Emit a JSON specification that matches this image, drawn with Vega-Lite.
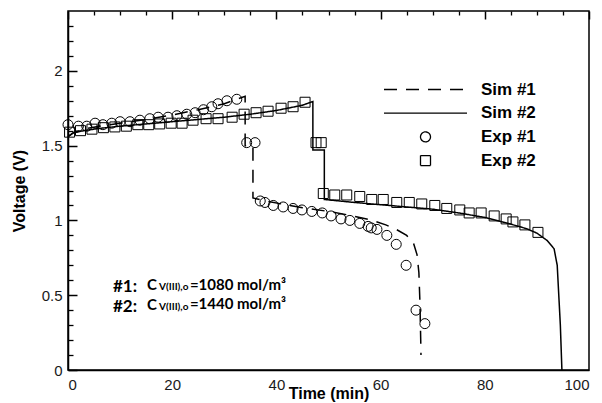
{
  "$schema": "https://vega.github.io/schema/vega-lite/v6.json",
  "width": 521,
  "height": 359,
  "autosize": {"type": "none"},
  "padding": {"left": 68, "top": 11, "right": 13, "bottom": 33},
  "background": "white",
  "config": {
    "view": {"stroke": "black", "strokeWidth": 1.5},
    "axis": {
      "grid": false,
      "domainColor": "black",
      "domainWidth": 1.5,
      "tickColor": "black",
      "tickWidth": 1.5,
      "labelFont": "Liberation Sans",
      "labelFontSize": 15,
      "labelColor": "#1a1a1a",
      "titleFont": "Liberation Sans",
      "titleFontSize": 16,
      "titleFontWeight": "bold",
      "titleColor": "black"
    },
    "legend": {
      "orient": "none",
      "legendX": 349,
      "legendY": 70,
      "padding": 0,
      "title": null,
      "labelFont": "Liberation Sans",
      "labelFontSize": 17,
      "labelFontWeight": "bold",
      "labelColor": "black",
      "labelOffset": 47,
      "rowPadding": 5.7,
      "symbolStrokeColor": "black",
      "symbolFillColor": "transparent",
      "symbolStrokeWidth": 1.3
    }
  },
  "datasets": {
    "pts": [
      {"s": "Sim #1", "k": 0, "t": 0, "v": 1.56},
      {"s": "Sim #1", "k": 1, "t": 1, "v": 1.585},
      {"s": "Sim #1", "k": 2, "t": 3, "v": 1.61},
      {"s": "Sim #1", "k": 3, "t": 6, "v": 1.63},
      {"s": "Sim #1", "k": 4, "t": 10, "v": 1.65},
      {"s": "Sim #1", "k": 5, "t": 15, "v": 1.675},
      {"s": "Sim #1", "k": 6, "t": 20, "v": 1.705},
      {"s": "Sim #1", "k": 7, "t": 25, "v": 1.74},
      {"s": "Sim #1", "k": 8, "t": 30, "v": 1.78},
      {"s": "Sim #1", "k": 9, "t": 34, "v": 1.83},
      {"s": "Sim #1", "k": 10, "t": 34, "v": 1.5},
      {"s": "Sim #1", "k": 11, "t": 35.5, "v": 1.5},
      {"s": "Sim #1", "k": 12, "t": 35.5, "v": 1.15},
      {"s": "Sim #1", "k": 13, "t": 38, "v": 1.13},
      {"s": "Sim #1", "k": 14, "t": 41, "v": 1.11},
      {"s": "Sim #1", "k": 15, "t": 45, "v": 1.085},
      {"s": "Sim #1", "k": 16, "t": 50, "v": 1.06},
      {"s": "Sim #1", "k": 17, "t": 54, "v": 1.035},
      {"s": "Sim #1", "k": 18, "t": 58, "v": 1.005},
      {"s": "Sim #1", "k": 19, "t": 61, "v": 0.97},
      {"s": "Sim #1", "k": 20, "t": 63, "v": 0.94},
      {"s": "Sim #1", "k": 21, "t": 65, "v": 0.9},
      {"s": "Sim #1", "k": 22, "t": 66.3, "v": 0.85},
      {"s": "Sim #1", "k": 23, "t": 67.0, "v": 0.77},
      {"s": "Sim #1", "k": 24, "t": 67.35, "v": 0.65},
      {"s": "Sim #1", "k": 25, "t": 67.55, "v": 0.45},
      {"s": "Sim #1", "k": 26, "t": 67.7, "v": 0.2},
      {"s": "Sim #1", "k": 27, "t": 67.75, "v": 0.1},
      {"s": "Sim #2", "k": 0, "t": 0, "v": 1.56},
      {"s": "Sim #2", "k": 1, "t": 1, "v": 1.585},
      {"s": "Sim #2", "k": 2, "t": 3, "v": 1.6},
      {"s": "Sim #2", "k": 3, "t": 6, "v": 1.615},
      {"s": "Sim #2", "k": 4, "t": 10, "v": 1.63},
      {"s": "Sim #2", "k": 5, "t": 15, "v": 1.645},
      {"s": "Sim #2", "k": 6, "t": 20, "v": 1.66},
      {"s": "Sim #2", "k": 7, "t": 25, "v": 1.675},
      {"s": "Sim #2", "k": 8, "t": 30, "v": 1.69},
      {"s": "Sim #2", "k": 9, "t": 35, "v": 1.71},
      {"s": "Sim #2", "k": 10, "t": 40, "v": 1.735},
      {"s": "Sim #2", "k": 11, "t": 45, "v": 1.77},
      {"s": "Sim #2", "k": 12, "t": 47, "v": 1.795},
      {"s": "Sim #2", "k": 13, "t": 47, "v": 1.47},
      {"s": "Sim #2", "k": 14, "t": 49.2, "v": 1.47},
      {"s": "Sim #2", "k": 15, "t": 49.2, "v": 1.14},
      {"s": "Sim #2", "k": 16, "t": 55, "v": 1.12},
      {"s": "Sim #2", "k": 17, "t": 60, "v": 1.105},
      {"s": "Sim #2", "k": 18, "t": 65, "v": 1.09},
      {"s": "Sim #2", "k": 19, "t": 70, "v": 1.075},
      {"s": "Sim #2", "k": 20, "t": 75, "v": 1.05},
      {"s": "Sim #2", "k": 21, "t": 80, "v": 1.02},
      {"s": "Sim #2", "k": 22, "t": 84, "v": 0.985},
      {"s": "Sim #2", "k": 23, "t": 88, "v": 0.945},
      {"s": "Sim #2", "k": 24, "t": 90, "v": 0.915},
      {"s": "Sim #2", "k": 25, "t": 92, "v": 0.865},
      {"s": "Sim #2", "k": 26, "t": 93.3, "v": 0.81},
      {"s": "Sim #2", "k": 27, "t": 93.9, "v": 0.7},
      {"s": "Sim #2", "k": 28, "t": 94.2, "v": 0.5},
      {"s": "Sim #2", "k": 29, "t": 94.5, "v": 0.3},
      {"s": "Sim #2", "k": 30, "t": 94.7, "v": 0.1},
      {"s": "Sim #2", "k": 31, "t": 94.8, "v": 0},
      {"s": "Exp #1", "t": 0, "v": 1.64},
      {"s": "Exp #1", "t": 2, "v": 1.63},
      {"s": "Exp #1", "t": 3.6, "v": 1.63},
      {"s": "Exp #1", "t": 5.2, "v": 1.65},
      {"s": "Exp #1", "t": 6.7, "v": 1.64},
      {"s": "Exp #1", "t": 8.4, "v": 1.65},
      {"s": "Exp #1", "t": 10, "v": 1.66},
      {"s": "Exp #1", "t": 11.9, "v": 1.66},
      {"s": "Exp #1", "t": 13.8, "v": 1.67},
      {"s": "Exp #1", "t": 15.7, "v": 1.68},
      {"s": "Exp #1", "t": 17.3, "v": 1.69},
      {"s": "Exp #1", "t": 19.2, "v": 1.69},
      {"s": "Exp #1", "t": 20.9, "v": 1.7},
      {"s": "Exp #1", "t": 22.8, "v": 1.71},
      {"s": "Exp #1", "t": 24.4, "v": 1.72},
      {"s": "Exp #1", "t": 26, "v": 1.74},
      {"s": "Exp #1", "t": 27.6, "v": 1.76},
      {"s": "Exp #1", "t": 28.8, "v": 1.78},
      {"s": "Exp #1", "t": 30.5, "v": 1.8},
      {"s": "Exp #1", "t": 32.4, "v": 1.81},
      {"s": "Exp #1", "t": 34.3, "v": 1.52},
      {"s": "Exp #1", "t": 35.9, "v": 1.52},
      {"s": "Exp #1", "t": 36.9, "v": 1.13},
      {"s": "Exp #1", "t": 37.8, "v": 1.12},
      {"s": "Exp #1", "t": 39.4, "v": 1.1},
      {"s": "Exp #1", "t": 41.3, "v": 1.09},
      {"s": "Exp #1", "t": 43.2, "v": 1.08},
      {"s": "Exp #1", "t": 44.9, "v": 1.07},
      {"s": "Exp #1", "t": 46.8, "v": 1.06},
      {"s": "Exp #1", "t": 48.8, "v": 1.05},
      {"s": "Exp #1", "t": 50.5, "v": 1.03},
      {"s": "Exp #1", "t": 52.4, "v": 1.01},
      {"s": "Exp #1", "t": 54.1, "v": 1.0},
      {"s": "Exp #1", "t": 56, "v": 0.98},
      {"s": "Exp #1", "t": 57.6, "v": 0.96},
      {"s": "Exp #1", "t": 58.2, "v": 0.95},
      {"s": "Exp #1", "t": 59.3, "v": 0.94},
      {"s": "Exp #1", "t": 61.2, "v": 0.9},
      {"s": "Exp #1", "t": 63, "v": 0.84},
      {"s": "Exp #1", "t": 64.9, "v": 0.7},
      {"s": "Exp #1", "t": 66.8, "v": 0.4},
      {"s": "Exp #1", "t": 68.5, "v": 0.31},
      {"s": "Exp #2", "t": 0.3, "v": 1.59},
      {"s": "Exp #2", "t": 2.4, "v": 1.6},
      {"s": "Exp #2", "t": 4.6, "v": 1.61},
      {"s": "Exp #2", "t": 6.8, "v": 1.62},
      {"s": "Exp #2", "t": 9.0, "v": 1.625},
      {"s": "Exp #2", "t": 11.2, "v": 1.63},
      {"s": "Exp #2", "t": 13.4, "v": 1.64},
      {"s": "Exp #2", "t": 15.5, "v": 1.64},
      {"s": "Exp #2", "t": 17.6, "v": 1.645},
      {"s": "Exp #2", "t": 19.8, "v": 1.65},
      {"s": "Exp #2", "t": 21.9, "v": 1.65},
      {"s": "Exp #2", "t": 24.0, "v": 1.67},
      {"s": "Exp #2", "t": 26.5, "v": 1.68},
      {"s": "Exp #2", "t": 28.8, "v": 1.68},
      {"s": "Exp #2", "t": 31.5, "v": 1.69},
      {"s": "Exp #2", "t": 33.8, "v": 1.71},
      {"s": "Exp #2", "t": 36.1, "v": 1.72},
      {"s": "Exp #2", "t": 38.4, "v": 1.73},
      {"s": "Exp #2", "t": 40.9, "v": 1.75},
      {"s": "Exp #2", "t": 43.2, "v": 1.76},
      {"s": "Exp #2", "t": 45.5, "v": 1.79},
      {"s": "Exp #2", "t": 47.6, "v": 1.52},
      {"s": "Exp #2", "t": 48.6, "v": 1.52},
      {"s": "Exp #2", "t": 49.0, "v": 1.18},
      {"s": "Exp #2", "t": 51.2, "v": 1.17},
      {"s": "Exp #2", "t": 53.5, "v": 1.17},
      {"s": "Exp #2", "t": 56.0, "v": 1.16},
      {"s": "Exp #2", "t": 58.3, "v": 1.14},
      {"s": "Exp #2", "t": 60.5, "v": 1.14},
      {"s": "Exp #2", "t": 63.1, "v": 1.12},
      {"s": "Exp #2", "t": 65.5, "v": 1.12},
      {"s": "Exp #2", "t": 67.9, "v": 1.11},
      {"s": "Exp #2", "t": 70.4, "v": 1.1},
      {"s": "Exp #2", "t": 72.7, "v": 1.08},
      {"s": "Exp #2", "t": 75.2, "v": 1.07},
      {"s": "Exp #2", "t": 77.0, "v": 1.05},
      {"s": "Exp #2", "t": 79.3, "v": 1.05},
      {"s": "Exp #2", "t": 81.8, "v": 1.03},
      {"s": "Exp #2", "t": 84.1, "v": 1.01},
      {"s": "Exp #2", "t": 85.4, "v": 0.99},
      {"s": "Exp #2", "t": 87.7, "v": 0.97},
      {"s": "Exp #2", "t": 90.2, "v": 0.92}
    ],
    "notes": [
      {"n": "a1", "label": "#1:"},
      {"n": "b1", "label": "C"},
      {"n": "c1", "label": "V(III),o"},
      {"n": "d1", "label": "=1080 mol/m³"},
      {"n": "a2", "label": "#2:"},
      {"n": "b2", "label": "C"},
      {"n": "c2", "label": "V(III),o"},
      {"n": "d2", "label": "=1440 mol/m³"}
    ]
  },
  "resolve": {"axis": {"x": "independent", "y": "independent"}},
  "layer": [
    {
      "encoding": {
        "x": {
          "field": "t", "type": "quantitative",
          "scale": {"domain": [0, 100], "nice": false, "zero": false},
          "axis": {
            "orient": "bottom",
            "title": "Time (min)",
            "values": [0, 20, 40, 60, 80, 100],
            "format": "d",
            "ticks": false,
            "tickSize": 0,
            "labelPadding": 7,
            "titlePadding": -7,
            "grid": true,
            "gridColor": "black",
            "gridWidth": 1.5,
            "gridOpacity": 1,
            "gridDash": [8, 2000]
          }
        },
        "y": {
          "field": "v", "type": "quantitative",
          "scale": {"domain": [0, 2.4], "nice": false, "zero": false},
          "axis": {
            "orient": "left",
            "title": "Voltage (V)",
            "values": [0, 0.5, 1, 1.5, 2],
            "format": "~g",
            "ticks": false,
            "tickSize": 0,
            "labelPadding": 6,
            "titlePadding": 14,
            "grid": true,
            "gridColor": "black",
            "gridWidth": 1.5,
            "gridOpacity": 1,
            "gridDash": [9, 2000]
          }
        }
      },
      "layer": [
        {
          "data": {"name": "pts"},
          "transform": [{"filter": "indexof(datum.s, 'Sim') === 0"}],
          "mark": {"type": "line", "color": "black", "strokeWidth": 1.5},
          "encoding": {
            "strokeDash": {
              "field": "s", "type": "nominal",
              "scale": {"domain": ["Sim #1", "Sim #2", "Exp #1", "Exp #2"], "range": [[13, 9], [1, 0], [1, 0], [1, 0]]}
            },
            "order": {"field": "k", "type": "quantitative"}
          }
        },
        {
          "data": {"name": "pts"},
          "transform": [{"filter": "indexof(datum.s, 'Exp') === 0"}],
          "mark": {"type": "point", "filled": false, "color": "black", "strokeWidth": 1, "opacity": 1},
          "encoding": {
            "shape": {
              "field": "s", "type": "nominal",
              "scale": {"domain": ["Sim #1", "Sim #2", "Exp #1", "Exp #2"], "range": ["M-8.3,0H8.3", "M-8.3,0H8.3", "circle", "square"]}
            },
            "size": {
              "field": "s", "type": "nominal",
              "scale": {"domain": ["Sim #1", "Sim #2", "Exp #1", "Exp #2"], "range": [100, 100, 115, 66]}
            }
          }
        }
      ]
    },
    {
      "data": {"name": "notes"},
      "transform": [{"filter": "datum.n === 'a1'"}],
      "mark": {"type": "text", "align": "left", "baseline": "alphabetic", "font": "Lato", "fontWeight": "bold", "fontSize": 17, "color": "black"},
      "encoding": {
        "x": {"datum": 8.64, "type": "quantitative",
          "axis": {"orient": "bottom", "values": [5,10,15,25,30,35,45,50,55,65,70,75,85,90,95], "ticks": false, "labels": false, "domain": false, "title": null, "grid": true, "gridColor": "black", "gridWidth": 1.3, "gridOpacity": 1, "gridDash": [4, 2000]}},
        "y": {"datum": 0.523, "type": "quantitative",
          "axis": {"orient": "left", "values": [0.1,0.2,0.3,0.4,0.6,0.7,0.8,0.9,1.1,1.2,1.3,1.4,1.6,1.7,1.8,1.9,2.1,2.2,2.3], "ticks": false, "labels": false, "domain": false, "title": null, "grid": true, "gridColor": "black", "gridWidth": 1.3, "gridOpacity": 1, "gridDash": [5, 2000]}},
        "text": {"field": "label", "type": "nominal"}
      }
    },
    {
      "data": {"name": "notes"},
      "transform": [{"filter": "datum.n === 'b1'"}],
      "mark": {"type": "text", "align": "left", "baseline": "alphabetic", "font": "Lato", "fontWeight": "bold", "fontSize": 15, "color": "black"},
      "encoding": {"x": {"datum": 15.16, "type": "quantitative", "axis": null}, "y": {"datum": 0.533, "type": "quantitative", "axis": null}, "text": {"field": "label", "type": "nominal"}}
    },
    {
      "data": {"name": "notes"},
      "transform": [{"filter": "datum.n === 'c1'"}],
      "mark": {"type": "text", "align": "left", "baseline": "alphabetic", "font": "Lato", "fontWeight": "bold", "fontSize": 10, "color": "black"},
      "encoding": {"x": {"datum": 17.47, "type": "quantitative", "axis": null}, "y": {"datum": 0.533, "type": "quantitative", "axis": null}, "text": {"field": "label", "type": "nominal"}}
    },
    {
      "data": {"name": "notes"},
      "transform": [{"filter": "datum.n === 'd1'"}],
      "mark": {"type": "text", "align": "left", "baseline": "alphabetic", "font": "Lato", "fontWeight": "bold", "fontSize": 15, "color": "black"},
      "encoding": {"x": {"datum": 23.4, "type": "quantitative", "axis": null}, "y": {"datum": 0.538, "type": "quantitative", "axis": null}, "text": {"field": "label", "type": "nominal"}}
    },
    {
      "data": {"name": "notes"},
      "transform": [{"filter": "datum.n === 'a2'"}],
      "mark": {"type": "text", "align": "left", "baseline": "alphabetic", "font": "Lato", "fontWeight": "bold", "fontSize": 17, "color": "black"},
      "encoding": {"x": {"datum": 8.64, "type": "quantitative", "axis": null}, "y": {"datum": 0.39, "type": "quantitative", "axis": null}, "text": {"field": "label", "type": "nominal"}}
    },
    {
      "data": {"name": "notes"},
      "transform": [{"filter": "datum.n === 'b2'"}],
      "mark": {"type": "text", "align": "left", "baseline": "alphabetic", "font": "Lato", "fontWeight": "bold", "fontSize": 15, "color": "black"},
      "encoding": {"x": {"datum": 15.16, "type": "quantitative", "axis": null}, "y": {"datum": 0.40, "type": "quantitative", "axis": null}, "text": {"field": "label", "type": "nominal"}}
    },
    {
      "data": {"name": "notes"},
      "transform": [{"filter": "datum.n === 'c2'"}],
      "mark": {"type": "text", "align": "left", "baseline": "alphabetic", "font": "Lato", "fontWeight": "bold", "fontSize": 10, "color": "black"},
      "encoding": {"x": {"datum": 17.47, "type": "quantitative", "axis": null}, "y": {"datum": 0.40, "type": "quantitative", "axis": null}, "text": {"field": "label", "type": "nominal"}}
    },
    {
      "data": {"name": "notes"},
      "transform": [{"filter": "datum.n === 'd2'"}],
      "mark": {"type": "text", "align": "left", "baseline": "alphabetic", "font": "Lato", "fontWeight": "bold", "fontSize": 15, "color": "black"},
      "encoding": {"x": {"datum": 23.4, "type": "quantitative", "axis": null}, "y": {"datum": 0.405, "type": "quantitative", "axis": null}, "text": {"field": "label", "type": "nominal"}}
    }
  ]
}
